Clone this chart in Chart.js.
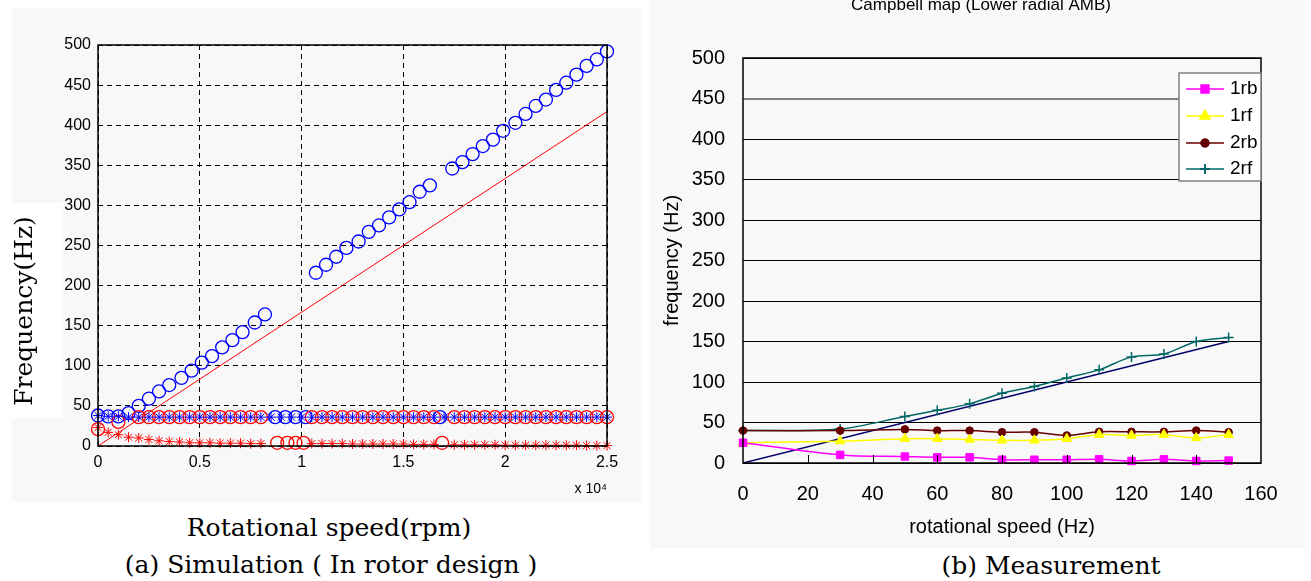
<!DOCTYPE html>
<html>
<head>
<meta charset="utf-8">
<script src="https://cdn.jsdelivr.net/npm/chart.js"></script>
<style>
  body { margin: 0; background: #fff; width: 1311px; height: 581px; position: relative; overflow: hidden; }
  #simChart { position: absolute; left: 0; top: 0; }
  #measChart { position: absolute; left: 650px; top: 0; }
  .serif { position: absolute; font-family: 'DejaVu Serif', serif; font-size: 25px; color: #000; white-space: nowrap; transform: translate(-50%, -50%); }
  #ylabBox { position: absolute; left: 12px; top: 203px; width: 51px; height: 215px; background: #fff; }
</style>
</head>
<body>
<canvas id="simChart" width="648" height="510"></canvas>
<canvas id="measChart" width="661" height="550"></canvas>
<div id="ylabBox"></div>
<div class="serif" style="left:23px; top:311px; transform: translate(-50%, -50%) rotate(-90deg);">Frequency(Hz)</div>
<div class="serif" style="left:329px; top:527px;">Rotational speed(rpm)</div>
<div class="serif" style="left:331px; top:564px;">(a) Simulation ( In rotor design )</div>
<div class="serif" style="left:1051px; top:565px;">(b) Measurement</div>
<script>
// ---- (a) simulation, rpm vs Hz ----
const simBlueCircRpm = [0, 500, 1000, 1500, 2000, 2500, 3000, 3500, 4100, 4600, 5100, 5600, 6100, 6600, 7100, 7700, 8200,
  8700, 9200, 9700, 10200,
  10700, 11200, 11700, 12200, 12800, 13300, 13800, 14300, 14800, 15300, 15800, 16300,
  16800,
  17400, 17900, 18400, 18900, 19400, 19900, 20500, 21000, 21500, 22000, 22500, 23000, 23500, 24000, 24500, 25000];
const simBlueCircHz = [38, 37, 37, 41, 50, 59, 68, 76, 85, 94, 104, 112, 123, 132, 142, 154, 164,
  36, 36, 36, 36,
  216, 226, 236, 247, 255, 267, 275, 285, 295, 304, 317, 325,
  36,
  346, 354, 364, 374, 382, 393, 403, 414, 424, 432, 444, 453, 463, 474, 482, 492];

const simRedCircRpm = [0, 1000, 2000, 2500, 3000, 3500, 4000, 4500, 5000, 5500, 6000, 6500, 7000, 7500, 8000,
  8800, 9300, 9700, 10100,
  10500, 11000, 11500, 12000, 12500, 13000, 13500, 14000, 14500, 15000, 15500, 16000, 16500,
  16900,
  17500, 18000, 18500, 19000, 19500, 20000, 20500, 21000, 21500, 22000, 22500, 23000, 23500, 24000, 24500, 25000];
const simRedCircHz = [21, 30, 36, 36, 36, 36, 36, 36, 36, 36, 36, 36, 36, 36, 36,
  4, 4, 4, 4,
  36, 36, 36, 36, 36, 36, 36, 36, 36, 36, 36, 36, 36,
  4,
  36, 36, 36, 36, 36, 36, 36, 36, 36, 36, 36, 36, 36, 36, 36, 36];

const simBlueStarRpm = [0, 500, 1000, 1500, 2000, 2500, 3000, 3500, 4000, 4500, 5000, 5500, 6000, 6500, 7000, 7500, 8000, 8500,
  9000, 9500, 10000, 10500, 11000, 11500, 12000, 12500, 13000, 13500, 14000, 14500, 15000, 15500, 16000, 16500, 17000,
  17500, 18000, 18500, 19000, 19500, 20000, 20500, 21000, 21500, 22000, 22500, 23000, 23500, 24000, 24500, 25000];
const simBlueStarHz = [38, 37, 37, 36, 36, 36, 36, 36, 36, 36, 36, 36, 36, 36, 36, 36, 36, 36,
  36, 36, 36, 36, 36, 36, 36, 36, 36, 36, 36, 36, 36, 36, 36, 36, 36,
  36, 36, 36, 36, 36, 36, 36, 36, 36, 36, 36, 36, 36, 36, 36, 36];

const simRedStarRpm = [0, 500, 1000, 1500, 2000, 2500, 3000, 3500, 4000, 4500, 5000, 5500, 6000, 6500, 7000, 7500, 8000,
  10500, 11000, 11500, 12000, 12500, 13000, 13500, 14000, 14500, 15000, 15500, 16000, 16500,
  17500, 18000, 18500, 19000, 19500, 20000, 20500, 21000, 21500, 22000, 22500, 23000, 23500, 24000, 24500, 25000];
const simRedStarHz = [23, 17, 14, 11, 10, 8, 6.5, 5.5, 5, 4, 4, 4, 3.5, 3.5, 3.5, 3, 3,
  3, 3, 3, 3, 2.5, 2.5, 2.5, 2.5, 2.5, 2.5, 2, 2, 2,
  1.5, 1.5, 1.5, 1.5, 1.5, 1, 1, 1, 1, 1, 1, 1, 1, 0.5, 0.5, 0.5];

const simLineRpm = [0, 25000];
const simLineHz = [0, 417];
const simXTickLabels = ['0', '0.5', '1', '1.5', '2', '2.5'];

// ---- (b) measurement ----
const measTitle = 'Campbell map (Lower radial AMB)';
const measSpeed = [0, 30, 50, 60, 70, 80, 90, 100, 110, 120, 130, 140, 150];
const meas1rb = [25, 10, 8, 7, 7, 4, 4, 4, 4.5, 2.5, 4.5, 2.5, 3];
const meas1rf = [25, 27, 30, 30, 29, 28, 28, 30, 35, 34, 35, 31, 35];
const meas2rb = [40, 40, 41.5, 40, 40, 38, 38, 34, 38.5, 38.5, 38.5, 40, 38];
const meas2rf = [40, 42, 57.5, 65, 73, 86, 94.5, 105, 115, 131, 134.5, 150, 155];
const measLineSpeed = [0, 150];
const measLineHz = [0, 150];

function pts(xs, ys) {
  return xs.map((x, i) => ({x: x, y: ys[i]}));
}

const sans = 'Liberation Sans, Arial, sans-serif';

// left chart
const simBg = {
  id: 'simBg',
  beforeDraw(chart) {
    const ctx = chart.ctx;
    ctx.save();
    ctx.fillStyle = '#f8f8f8';
    ctx.fillRect(12, 8, 630, 494);
    ctx.restore();
  },
  afterDraw(chart) {
    const a = chart.chartArea, ctx = chart.ctx;
    ctx.save();
    ctx.strokeStyle = '#000';
    ctx.lineWidth = 1.5;
    ctx.strokeRect(a.left, a.top, a.right - a.left, a.bottom - a.top);
    ctx.restore();
  }
};

new Chart(document.getElementById('simChart'), {
  type: 'scatter',
  data: {
    datasets: [
      {
        data: pts(simRedStarRpm, simRedStarHz),
        pointStyle: 'star', pointRadius: 5, borderColor: '#ff0000', borderWidth: 1,
        backgroundColor: 'transparent', clip: false
      },
      {
        data: pts(simBlueStarRpm, simBlueStarHz),
        pointStyle: 'star', pointRadius: 5, borderColor: '#0000ff', borderWidth: 1,
        backgroundColor: 'transparent', clip: false
      },
      {
        data: pts(simRedCircRpm, simRedCircHz),
        pointStyle: 'circle', pointRadius: 6.5, borderColor: '#ff0000', borderWidth: 1.3,
        backgroundColor: 'transparent', clip: false
      },
      {
        data: pts(simBlueCircRpm, simBlueCircHz),
        pointStyle: 'circle', pointRadius: 6.5, borderColor: '#0000ff', borderWidth: 1.3,
        backgroundColor: 'transparent', clip: false
      },
      {
        data: pts(simLineRpm, simLineHz),
        showLine: true, pointRadius: 0, borderColor: '#ff0000', borderWidth: 1
      }
    ]
  },
  options: {
    responsive: false,
    animation: false,
    layout: { padding: { left: 0, right: 41, top: 45, bottom: 0 } },
    plugins: { legend: { display: false }, tooltip: { enabled: false } },
    scales: {
      x: {
        type: 'linear', min: 0, max: 25000,
        ticks: {
          stepSize: 5000, autoSkip: false, maxRotation: 0, padding: 7,
          color: '#000', font: { family: sans, size: 16 },
          callback: (v, i) => simXTickLabels[i]
        },
        grid: { color: '#000', lineWidth: 1, drawTicks: false },
        border: { display: false, dash: [5, 4] },
        title: {
          display: true, text: 'x 10\u2074', align: 'end', color: '#000',
          font: { family: sans, size: 14 }, padding: { top: 0, bottom: 12 }
        },
        afterFit: s => { s.height = 64; }
      },
      y: {
        min: 0, max: 500,
        ticks: { stepSize: 50, padding: 7, color: '#000', font: { family: sans, size: 16 } },
        grid: { color: '#000', lineWidth: 1, drawTicks: false },
        border: { display: false, dash: [5, 4] },
        afterFit: s => { s.width = 98; }
      }
    }
  },
  plugins: [simBg]
});

// right chart
const measSeries = [
  { label: '1rb', color: '#ff00ff', style: 'rect', r: 5.3 },
  { label: '1rf', color: '#ffff00', style: 'triangle', r: 5.5 },
  { label: '2rb', color: '#660000', style: 'circle', r: 3.8 },
  { label: '2rf', color: '#006666', style: 'cross', r: 5 }
];

const measDeco = {
  id: 'measDeco',
  beforeDraw(chart) {
    const ctx = chart.ctx;
    ctx.save();
    ctx.fillStyle = '#f8f8f8';
    ctx.fillRect(0, 0, 655, 548);
    // chart title, cut at the top edge like the source figure
    ctx.fillStyle = '#000';
    ctx.font = '17px ' + sans;
    ctx.textAlign = 'center';
    ctx.textBaseline = 'alphabetic';
    ctx.fillText(measTitle, 331, 10);
    ctx.restore();
  },
  afterDraw(chart) {
    const a = chart.chartArea, ctx = chart.ctx, xs = chart.scales.x;
    ctx.save();
    ctx.strokeStyle = '#000';
    ctx.lineWidth = 1;
    for (let v = 20; v < 160; v += 20) {
      const px = Math.round(xs.getPixelForValue(v)) + 0.5;
      ctx.beginPath();
      ctx.moveTo(px, a.bottom);
      ctx.lineTo(px, a.bottom - 8);
      ctx.stroke();
    }
    ctx.lineWidth = 1.5;
    ctx.strokeRect(a.left, a.top, a.right - a.left, a.bottom - a.top);

    // legend box
    const bx = 529, by = 73, bw = 82, bh = 108;
    ctx.fillStyle = '#ffffff';
    ctx.fillRect(bx, by, bw, bh);
    ctx.strokeStyle = '#808080';
    ctx.lineWidth = 1.5;
    ctx.strokeRect(bx, by, bw, bh);
    const rows = [89, 116, 143, 169];
    ctx.font = '19px ' + sans;
    ctx.textBaseline = 'middle';
    measSeries.forEach((s, i) => {
      const y = rows[i];
      ctx.strokeStyle = s.color;
      ctx.lineWidth = 1.5;
      ctx.beginPath();
      ctx.moveTo(536, y);
      ctx.lineTo(574, y);
      ctx.stroke();
      Chart.helpers.drawPoint(ctx, {
        pointStyle: s.style, radius: s.r, borderWidth: s.style === 'cross' ? 1.5 : 1, rotation: 0
      }, 555, y);
      ctx.fillStyle = s.color;
      ctx.strokeStyle = s.color;
      ctx.fill();
      ctx.stroke();
      ctx.fillStyle = '#000';
      ctx.fillText(s.label, 580, y);
    });
    ctx.restore();
  }
};

const measData = [meas1rb, meas1rf, meas2rb, meas2rf];

new Chart(document.getElementById('measChart'), {
  type: 'scatter',
  data: {
    datasets: measSeries.map((s, i) => ({
      label: s.label,
      data: pts(measSpeed, measData[i]),
      showLine: true,
      tension: 0.3,
      borderColor: s.color,
      backgroundColor: s.color,
      borderWidth: 1.5,
      pointStyle: s.style,
      pointRadius: s.r,
      pointBorderWidth: s.style === 'cross' ? 1.5 : 1,
      clip: false
    })).concat([{
      label: 'line',
      data: pts(measLineSpeed, measLineHz),
      showLine: true, pointRadius: 0, borderColor: '#000066', borderWidth: 1.5, order: 1
    }])
  },
  options: {
    responsive: false,
    animation: false,
    layout: { padding: { left: 0, right: 50, top: 58, bottom: 0 } },
    plugins: {
      legend: { display: false },
      tooltip: { enabled: false }
    },
    scales: {
      x: {
        type: 'linear', min: 0, max: 160,
        ticks: { stepSize: 20, autoSkip: false, maxRotation: 0, padding: 19, color: '#000', font: { family: sans, size: 20 } },
        grid: { display: false, drawTicks: false },
        border: { display: false },
        title: {
          display: true, text: 'rotational speed (Hz)', color: '#000',
          font: { family: sans, size: 20 }, padding: { top: 0, bottom: 11 }
        },
        afterFit: s => { s.height = 87; }
      },
      y: {
        min: 0, max: 500,
        ticks: { stepSize: 50, padding: 18, color: '#000', font: { family: sans, size: 20 } },
        grid: {
          drawTicks: false,
          color: c => (c.tick && c.tick.value === 450) ? '#808080' : '#000',
          lineWidth: c => (c.tick && c.tick.value === 450) ? 2 : 1
        },
        border: { display: false },
        title: {
          display: true, text: 'frequency (Hz)', color: '#000',
          font: { family: sans, size: 20 }, padding: { top: 10, bottom: 0 }
        },
        afterFit: s => { s.width = 93; }
      }
    }
  },
  plugins: [measDeco]
});
</script>
</body>
</html>
